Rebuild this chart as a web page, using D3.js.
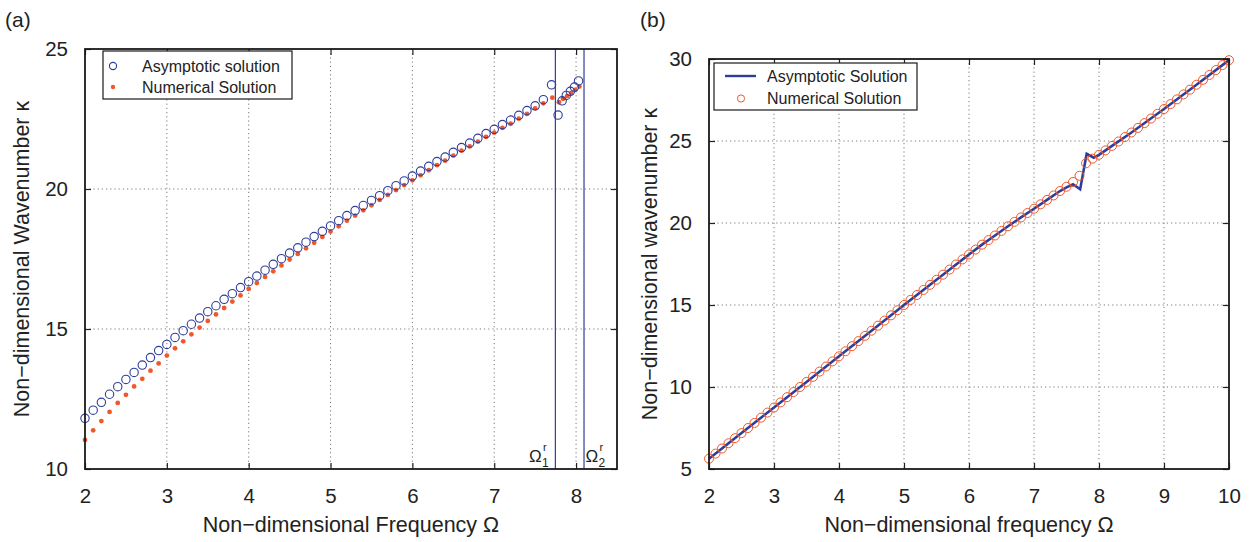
<!DOCTYPE html>
<html>
<head>
<meta charset="utf-8">
<script src="https://cdn.jsdelivr.net/npm/d3@7"></script>
<style>
  body { margin: 0; background: #fff; }
  svg { font-family: "Liberation Sans", Arial, sans-serif; }
  .tick text { font-size: 20.5px; fill: #222; }
  .tick line { stroke: #222; }
  .domain { display: none; }
</style>
</head>
<body>
<svg id="chart" width="1256" height="542"></svg>
<script>
// panel (a): asymptotic vs numerical wavenumber
var omegaA = [2.0,2.1,2.2,2.3,2.4,2.5,2.6,2.7,2.8,2.9,3.0,3.1,3.2,3.3,3.4,3.5,3.6,3.7,3.8,3.9,
  4.0,4.1,4.2,4.3,4.4,4.5,4.6,4.7,4.8,4.9,5.0,5.1,5.2,5.3,5.4,5.5,5.6,5.7,5.8,5.9,
  6.0,6.1,6.2,6.3,6.4,6.5,6.6,6.7,6.8,6.9,7.0,7.1,7.2,7.3,7.4,7.5,7.6,7.7,
  7.78,7.83,7.88,7.93,7.98,8.03];
var kappaA = [11.81,12.10,12.38,12.67,12.94,13.20,13.45,13.71,13.98,14.23,14.45,14.70,14.94,15.17,15.39,15.62,15.83,16.06,16.26,16.48,
  16.69,16.89,17.10,17.31,17.51,17.71,17.90,18.10,18.30,18.49,18.68,18.87,19.05,19.23,19.41,19.59,19.76,19.94,20.12,20.29,
  20.46,20.64,20.81,20.98,21.14,21.31,21.48,21.64,21.81,21.98,22.13,22.30,22.46,22.63,22.80,22.97,23.19,23.72,
  22.64,23.15,23.34,23.49,23.64,23.86];
var omegaN = [2.0,2.1,2.2,2.3,2.4,2.5,2.6,2.7,2.8,2.9,3.0,3.1,3.2,3.3,3.4,3.5,3.6,3.7,3.8,3.9,
  4.0,4.1,4.2,4.3,4.4,4.5,4.6,4.7,4.8,4.9,5.0,5.1,5.2,5.3,5.4,5.5,5.6,5.7,5.8,5.9,
  6.0,6.1,6.2,6.3,6.4,6.5,6.6,6.7,6.8,6.9,7.0,7.1,7.2,7.3,7.4,7.5,7.6,7.71,
  7.79,7.84,7.89,7.94,7.99,8.04];
var kappaN = [11.04,11.38,11.71,12.04,12.36,12.65,12.95,13.22,13.51,13.77,14.05,14.31,14.56,14.81,15.05,15.29,15.52,15.75,15.98,16.20,
  16.43,16.64,16.86,17.06,17.27,17.48,17.68,17.88,18.08,18.29,18.48,18.67,18.87,19.05,19.24,19.42,19.61,19.79,19.96,20.14,
  20.31,20.49,20.67,20.85,21.01,21.19,21.37,21.52,21.69,21.86,22.01,22.18,22.33,22.51,22.68,22.88,23.06,23.26,
  23.10,23.22,23.32,23.43,23.54,23.66];
var omegaRes = [7.747, 8.097];

// panel (b)
var omegaB = [2.0,2.1,2.2,2.3,2.4,2.5,2.6,2.7,2.8,2.9,3.0,3.1,3.2,3.3,3.4,3.5,3.6,3.7,3.8,3.9,
  4.0,4.1,4.2,4.3,4.4,4.5,4.6,4.7,4.8,4.9,5.0,5.1,5.2,5.3,5.4,5.5,5.6,5.7,5.8,5.9,
  6.0,6.1,6.2,6.3,6.4,6.5,6.6,6.7,6.8,6.9,7.0,7.1,7.2,7.3,7.4,7.5,7.6,7.7,7.8,7.9,
  8.0,8.1,8.2,8.3,8.4,8.5,8.6,8.7,8.8,8.9,9.0,9.1,9.2,9.3,9.4,9.5,9.6,9.7,9.8,9.9,10.0];
var kappaNumB = [5.63,5.94,6.25,6.57,6.88,7.19,7.50,7.81,8.13,8.44,8.75,9.06,9.38,9.69,10.00,10.31,10.62,10.94,11.25,11.56,
  11.87,12.18,12.49,12.80,13.12,13.43,13.74,14.05,14.37,14.68,15.00,15.31,15.61,15.92,16.23,16.54,16.85,17.16,17.47,17.78,
  18.08,18.38,18.68,18.96,19.24,19.52,19.80,20.07,20.34,20.61,20.87,21.14,21.41,21.68,21.95,22.21,22.50,22.88,23.64,23.92,
  24.16,24.43,24.70,24.97,25.24,25.52,25.80,26.09,26.37,26.66,26.95,27.25,27.54,27.84,28.13,28.43,28.73,29.03,29.33,29.63,29.93];
var omegaAsyB = [2.0,2.5,3.0,3.5,4.0,4.5,5.0,5.5,6.0,6.2,6.4,6.6,6.8,7.0,7.2,7.4,7.5,7.6,7.71,7.81,7.92,8.0,8.2,8.5,9.0,9.5,10.0];
var kappaAsyB = [5.63,7.19,8.75,10.31,11.87,13.43,15.00,16.54,18.08,18.68,19.24,19.80,20.34,20.87,21.41,21.95,22.17,22.36,22.05,24.22,23.98,24.16,24.70,25.52,26.95,28.43,29.93];

var xTicksA = [2,3,4,5,6,7,8];
var yTicksA = [10,15,20,25];
var xTicksB = [2,3,4,5,6,7,8,9,10];
var yTicksB = [5,10,15,20,25,30];

var blue = "#2f3d9a";
var orange = "#f0582a";

var svg = d3.select("#chart");

function panel(x0, x1, y0, y1, xd, yd, xt, yt) {
  var x = d3.scaleLinear().domain(xd).range([x0, x1]);
  var y = d3.scaleLinear().domain(yd).range([y1, y0]);
  var g = svg.append("g");
  // dotted grid
  g.selectAll(".gx").data(xt.filter(function (d) { return x(d) > x0 + 1 && x(d) < x1 - 1; }))
    .enter().append("line")
    .attr("x1", d => x(d)).attr("x2", d => x(d)).attr("y1", y0).attr("y2", y1)
    .attr("stroke", "#7a7a7a").attr("stroke-dasharray", "1.2,3").attr("stroke-width", 1);
  g.selectAll(".gy").data(yt.filter(function (d) { return y(d) > y0 + 1 && y(d) < y1 - 1; }))
    .enter().append("line")
    .attr("y1", d => y(d)).attr("y2", d => y(d)).attr("x1", x0).attr("x2", x1)
    .attr("stroke", "#7a7a7a").attr("stroke-dasharray", "1.2,3").attr("stroke-width", 1);
  // axes, ticks pointing inward on all four sides
  var fmt = d3.format("d");
  g.append("g").attr("transform", "translate(0," + y1 + ")")
    .call(d3.axisBottom(x).tickValues(xt).tickFormat(fmt).tickSizeInner(-6).tickSizeOuter(0).tickPadding(19));
  g.append("g").attr("transform", "translate(0," + y0 + ")")
    .call(d3.axisTop(x).tickValues(xt).tickSizeInner(-6).tickSizeOuter(0).tickFormat(""));
  g.append("g").attr("transform", "translate(" + x0 + ",0)")
    .call(d3.axisLeft(y).tickValues(yt).tickFormat(fmt).tickSizeInner(-6).tickSizeOuter(0).tickPadding(17));
  g.append("g").attr("transform", "translate(" + x1 + ",0)")
    .call(d3.axisRight(y).tickValues(yt).tickSizeInner(-6).tickSizeOuter(0).tickFormat(""));
  g.selectAll(".tick line").attr("stroke-width", 1.2);
  return { x: x, y: y, g: g, box: function () {
    g.append("rect").attr("x", x0).attr("y", y0).attr("width", x1 - x0).attr("height", y1 - y0)
      .attr("fill", "none").attr("stroke", "#1a1a1a").attr("stroke-width", 1.8);
  } };
}

// ---------- panel (a) ----------
var A = panel(85, 617, 49, 469, [2, 8.5], [10, 25], xTicksA, yTicksA);
A.g.selectAll(".res").data(omegaRes).enter().append("line")
  .attr("x1", d => A.x(d)).attr("x2", d => A.x(d)).attr("y1", 49).attr("y2", 469)
  .attr("stroke", blue).attr("stroke-width", 1.2);
A.g.selectAll(".num").data(omegaN).enter().append("circle")
  .attr("cx", d => A.x(d)).attr("cy", (d, i) => A.y(kappaN[i])).attr("r", 2.4)
  .attr("fill", orange);
A.g.selectAll(".asy").data(omegaA).enter().append("circle")
  .attr("cx", d => A.x(d)).attr("cy", (d, i) => A.y(kappaA[i])).attr("r", 4.2)
  .attr("fill", "none").attr("stroke", blue).attr("stroke-width", 1.1);
A.box();

// resonance labels: Omega with sup r and sub index
[["1", 529], ["2", 585.5]].forEach(function (p) {
  A.g.append("text").attr("x", p[1]).attr("y", 462).attr("font-size", 17).attr("fill", "#222").text("\u03A9");
  A.g.append("text").attr("x", p[1] + 14).attr("y", 451).attr("font-size", 11).attr("fill", "#222").text("r");
  A.g.append("text").attr("x", p[1] + 13).attr("y", 467).attr("font-size", 12).attr("fill", "#222").text(p[0]);
});

// legend (a)
var la = A.g.append("g");
la.append("rect").attr("x", 103).attr("y", 51).attr("width", 189).attr("height", 48)
  .attr("fill", "#fff").attr("stroke", "#1a1a1a").attr("stroke-width", 1.2);
la.append("circle").attr("cx", 113).attr("cy", 66).attr("r", 3.6).attr("fill", "none").attr("stroke", blue).attr("stroke-width", 1.1);
la.append("circle").attr("cx", 113).attr("cy", 87).attr("r", 2.2).attr("fill", orange);
la.append("text").attr("x", 142).attr("y", 72).attr("font-size", 16).attr("fill", "#222").text("Asymptotic solution");
la.append("text").attr("x", 142).attr("y", 93).attr("font-size", 16).attr("fill", "#222").text("Numerical Solution");

svg.append("text").attr("x", 351).attr("y", 532).attr("text-anchor", "middle").attr("font-size", 21.5).attr("fill", "#222")
  .text("Non\u2212dimensional Frequency \u03A9");
svg.append("text").attr("transform", "translate(29,259) rotate(-90)").attr("text-anchor", "middle").attr("font-size", 21.5).attr("fill", "#222")
  .text("Non\u2212dimensional Wavenumber \u03BA");
svg.append("text").attr("x", 5).attr("y", 27).attr("font-size", 21).attr("fill", "#222").text("(a)");

// ---------- panel (b) ----------
var B = panel(709, 1229, 59, 469, [2, 10], [5, 30], xTicksB, yTicksB);
B.g.append("path").datum(omegaAsyB)
  .attr("d", d3.line().x(d => B.x(d)).y((d, i) => B.y(kappaAsyB[i])))
  .attr("fill", "none").attr("stroke", blue).attr("stroke-width", 2.6).attr("stroke-linejoin", "miter");
B.g.selectAll(".numb").data(omegaB).enter().append("circle")
  .attr("cx", d => B.x(d)).attr("cy", (d, i) => B.y(kappaNumB[i])).attr("r", 4.5)
  .attr("fill", "none").attr("stroke", orange).attr("stroke-width", 1);
B.box();

var lb = B.g.append("g");
lb.append("rect").attr("x", 714).attr("y", 63).attr("width", 203).attr("height", 47)
  .attr("fill", "#fff").attr("stroke", "#1a1a1a").attr("stroke-width", 1.2);
lb.append("line").attr("x1", 725).attr("x2", 756).attr("y1", 76).attr("y2", 76).attr("stroke", blue).attr("stroke-width", 2.4);
lb.append("circle").attr("cx", 741).attr("cy", 98.5).attr("r", 3.6).attr("fill", "none").attr("stroke", orange).attr("stroke-width", 1);
lb.append("text").attr("x", 767).attr("y", 82).attr("font-size", 16).attr("fill", "#222").text("Asymptotic Solution");
lb.append("text").attr("x", 767).attr("y", 104).attr("font-size", 16).attr("fill", "#222").text("Numerical Solution");

svg.append("text").attr("x", 969).attr("y", 532).attr("text-anchor", "middle").attr("font-size", 21.5).attr("fill", "#222")
  .text("Non\u2212dimensional frequency \u03A9");
svg.append("text").attr("transform", "translate(657,264) rotate(-90)").attr("text-anchor", "middle").attr("font-size", 21.5).attr("fill", "#222")
  .text("Non\u2212dimensional wavenumber \u03BA");
svg.append("text").attr("x", 640).attr("y", 27).attr("font-size", 21).attr("fill", "#222").text("(b)");
</script>
</body>
</html>
